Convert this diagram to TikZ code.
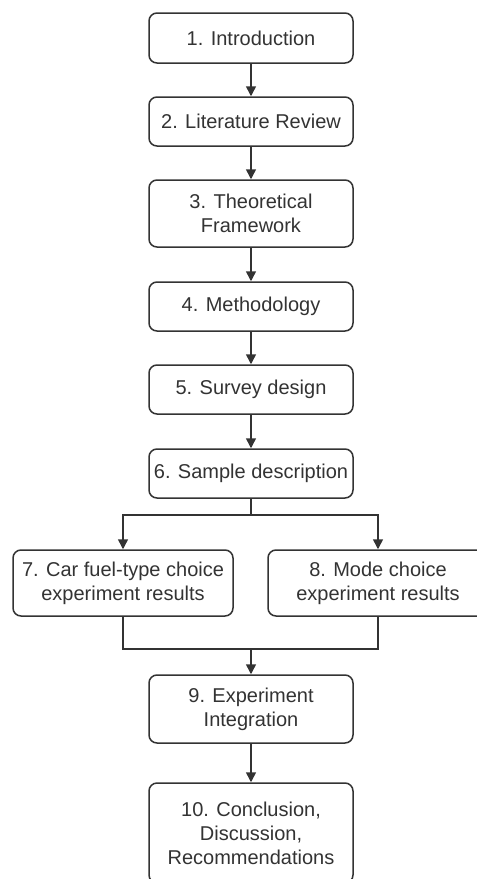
\documentclass[tikz,border=0pt]{standalone}
\usepackage{fontspec}
\setmainfont{Liberation Sans}
\usetikzlibrary{arrows.meta}
\definecolor{ink}{HTML}{333333}
\tikzset{
  box/.style={draw=ink, line width=1.5pt, rounded corners=8pt, fill=white,
    minimum width=204pt, inner sep=0pt, align=center, text=ink,
    font=\fontsize{20}{24}\selectfont},
  wide/.style={minimum width=220pt},
  conn/.style={draw=ink, line width=1.5pt},
  arr/.style={conn, -{Triangle[length=10pt,width=10pt]}}
}
\begin{document}
\begin{tikzpicture}[x=1pt,y=-1pt]
\useasboundingbox (0,0) rectangle (477,879);
\clip (0,0) rectangle (477,879);
\fill[white] (0,0) rectangle (477,879);
\node[box, minimum height=50pt] (b1) at (251,38) {1. Introduction};
\node[box, minimum height=49pt] (b2) at (251,121.5) {2. Literature Review};
\node[box, minimum height=67pt] (b3) at (251,213.5) {3. Theoretical\\Framework};
\node[box, minimum height=49pt] (b4) at (251,306.5) {4. Methodology};
\node[box, minimum height=49pt] (b5) at (251,389.5) {5. Survey design};
\node[box, minimum height=49pt] (b6) at (251,473.5) {6. Sample description};
\node[box, wide, minimum height=66pt] (b7) at (123,583) {7. Car fuel-type choice\\experiment results};
\node[box, wide, minimum height=66pt] (b8) at (378,583) {8. Mode choice\\experiment results};
\node[box, minimum height=68pt] (b9) at (251,709) {9. Experiment\\Integration};
\node[box, minimum height=100pt] (b10) at (251,833) {10. Conclusion,\\Discussion,\\Recommendations};
\coordinate (split) at (251,515);
\coordinate (merge) at (251,649);
\draw[arr] (b1) -- (b2);
\draw[arr] (b2) -- (b3);
\draw[arr] (b3) -- (b4);
\draw[arr] (b4) -- (b5);
\draw[arr] (b5) -- (b6);
\draw[conn] (b6.south) -- (split);
\draw[arr] (split) -| (b7.north);
\draw[arr] (split) -| (b8.north);
\draw[conn] (b7.south) |- (merge);
\draw[conn] (b8.south) |- (merge);
\draw[arr] (merge) -- (b9.north);
\draw[arr] (b9) -- (b10);
\end{tikzpicture}
\end{document}
